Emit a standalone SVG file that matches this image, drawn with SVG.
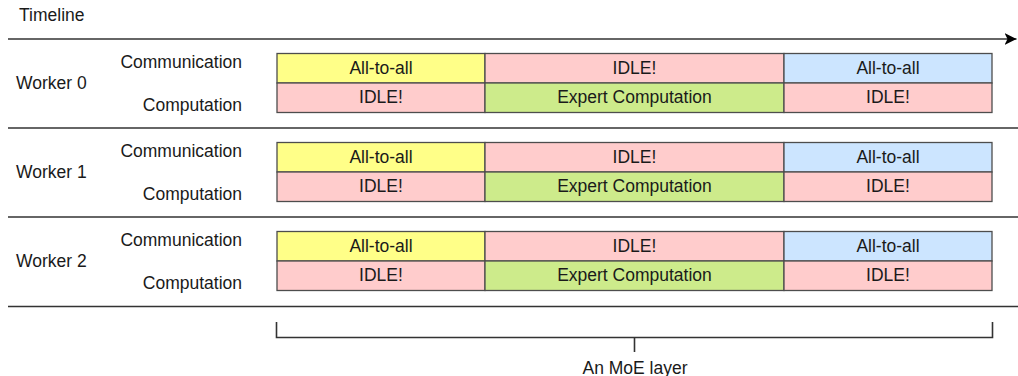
<svg xmlns="http://www.w3.org/2000/svg" width="1018" height="376" viewBox="0 0 1018 376">
  <style>
    text { font-family: "Liberation Sans", Arial, sans-serif; font-size: 17.5px; fill: #1a1a1a; }
    .lbl { text-anchor: end; }
    .mid { text-anchor: middle; }
    .cell { stroke: #4d4d4d; stroke-width: 1.3; }
    .yel { fill: #ffff88; }
    .red { fill: #ffcccc; }
    .blu { fill: #cce5ff; }
    .grn { fill: #cdeb8b; }
    .rule { stroke: #333; stroke-width: 1.6; fill: none; }
  </style>
  <defs>
    <marker id="arrow" viewBox="0 0 12 12" refX="12" refY="6" markerWidth="12" markerHeight="12" markerUnits="userSpaceOnUse" orient="auto">
      <path d="M0,0 L12,6 L0,12 L3,6 Z" fill="#000"/>
    </marker>
    <!-- one worker lane: two rows of three phases -->
    <g id="lane">
      <rect class="cell yel" x="277" y="0" width="208" height="29.5"/>
      <rect class="cell red" x="485" y="0" width="299" height="29.5"/>
      <rect class="cell blu" x="784" y="0" width="208" height="29.5"/>
      <rect class="cell red" x="277" y="29.5" width="208" height="29.5"/>
      <rect class="cell grn" x="485" y="29.5" width="299" height="29.5"/>
      <rect class="cell red" x="784" y="29.5" width="208" height="29.5"/>
      <text class="mid" x="381" y="20">All-to-all</text>
      <text class="mid" x="634.5" y="20">IDLE!</text>
      <text class="mid" x="888" y="20">All-to-all</text>
      <text class="mid" x="381" y="49.7">IDLE!</text>
      <text class="mid" x="634.5" y="49.7">Expert Computation</text>
      <text class="mid" x="888" y="49.7">IDLE!</text>
      <text class="lbl" x="242" y="14">Communication</text>
      <text class="lbl" x="242" y="57">Computation</text>
    </g>
  </defs>

  <text x="19" y="20.5">Timeline</text>

  <g id="connectors">
    <line class="rule" x1="8" y1="39" x2="1016.5" y2="39" marker-end="url(#arrow)"/>
    <line class="rule" x1="8" y1="128" x2="1018" y2="128"/>
    <line class="rule" x1="8" y1="217" x2="1018" y2="217"/>
    <line class="rule" x1="8" y1="306.5" x2="1018" y2="306.5"/>
    <path class="rule" d="M276.5,322 V337.5 H992.5 V322 M634.5,337.5 V352"/>
  </g>

  <g id="worker0">
    <text x="16" y="89">Worker 0</text>
    <use href="#lane" transform="translate(0,53.5)"/>
  </g>
  <g id="worker1">
    <text x="16" y="178">Worker 1</text>
    <use href="#lane" transform="translate(0,142.5)"/>
  </g>
  <g id="worker2">
    <text x="16" y="267">Worker 2</text>
    <use href="#lane" transform="translate(0,231.5)"/>
  </g>

  <g id="moe-label">
    <text class="mid" x="635" y="373.5">An MoE layer</text>
  </g>
</svg>
